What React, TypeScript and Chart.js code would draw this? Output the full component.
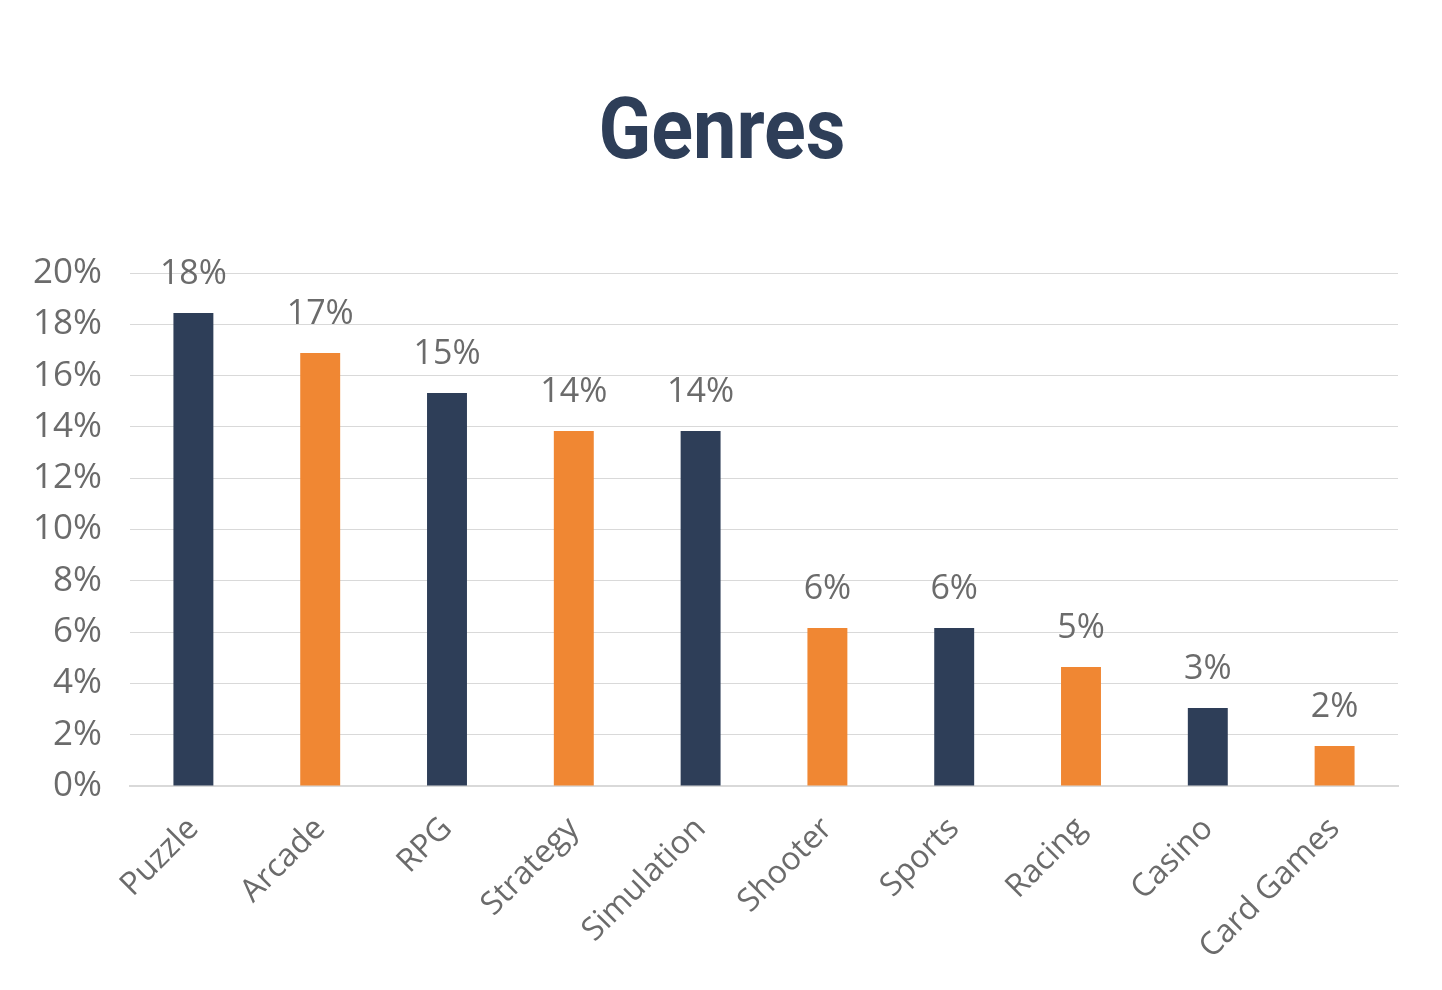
import React, { useEffect, useRef } from "react";
import { Chart, registerables } from "chart.js";

Chart.register(...registerables);

const categories = ["Puzzle", "Arcade", "RPG", "Strategy", "Simulation", "Shooter", "Sports", "Racing", "Casino", "Card Games"];
const values = [18.44, 16.88, 15.32, 13.84, 13.84, 6.16, 6.16, 4.64, 3.04, 1.56];
const labelsText = ["18%", "17%", "15%", "14%", "14%", "6%", "6%", "5%", "3%", "2%"];
const NAVY = "#2E3E58";
const ORANGE = "#F08733";
const barColors = categories.map((_, i) => (i % 2 === 0 ? NAVY : ORANGE));
const TEXT = "#6b6b6b";
const FONT = "'Open Sans', sans-serif";

const overlay = {
  id: "overlay",
  afterDatasetsDraw(chart: any) {
    const ctx = chart.ctx;
    ctx.save();
    ctx.fillStyle = NAVY;
    ctx.font = "bold 86px 'Roboto', sans-serif";
    ctx.textAlign = "center";
    ctx.textBaseline = "alphabetic";
    ctx.translate(chart.width / 2 + 1, 158);
    ctx.scale(0.9, 1);
    ctx.fillText("Genres", 0, 0);
    ctx.restore();
    ctx.save();
    const meta = chart.getDatasetMeta(0);
    ctx.fillStyle = TEXT;
    ctx.font = "34px " + FONT;
    ctx.textAlign = "center";
    ctx.textBaseline = "alphabetic";
    meta.data.forEach((bar: any, i: number) => {
      ctx.fillText(labelsText[i], bar.x, bar.y - 29);
    });
    ctx.restore();
  },
};

export default function App() {
  const ref = useRef<HTMLCanvasElement>(null);
  useEffect(() => {
    if (!ref.current) return;
    const chart = new Chart(ref.current, {
      type: "bar",
      data: {
        labels: categories,
        datasets: [
          {
            data: values,
            backgroundColor: barColors,
            categoryPercentage: 1,
            barPercentage: 0.315,
          },
        ],
      },
      options: {
        animation: false,
        responsive: false,
        maintainAspectRatio: false,
        layout: { padding: { top: 273, right: 44, left: 0, bottom: 0 } },
        plugins: { legend: { display: false }, tooltip: { enabled: false }, title: { display: false } },
        scales: {
          x: {
            grid: { display: false, drawTicks: false },
            border: { display: true, color: "#d9d9d9", width: 2 },
            ticks: {
              color: TEXT,
              font: { family: FONT, size: 32 },
              maxRotation: 45,
              minRotation: 45,
              padding: 24,
              autoSkip: false,
            },
            afterFit(scale: any) {
              scale.height = 204;
            },
          },
          y: {
            min: 0,
            max: 20,
            grid: { color: "#d9d9d9", lineWidth: 1, drawTicks: false },
            border: { display: false },
            ticks: {
              stepSize: 2,
              color: TEXT,
              font: { family: FONT, size: 35 },
              padding: 28,
              callback: (v: any) => v + "%",
            },
            afterFit(scale: any) {
              scale.width = 130;
            },
          },
        },
      },
      plugins: [overlay],
    });
    return () => chart.destroy();
  }, []);
  return (
    <div style={{ position: "fixed", left: 0, top: 0, width: 1442, height: 990, background: "#fff" }}>
      <canvas ref={ref} width={1442} height={990} style={{ width: 1442, height: 990 }} />
    </div>
  );
}
